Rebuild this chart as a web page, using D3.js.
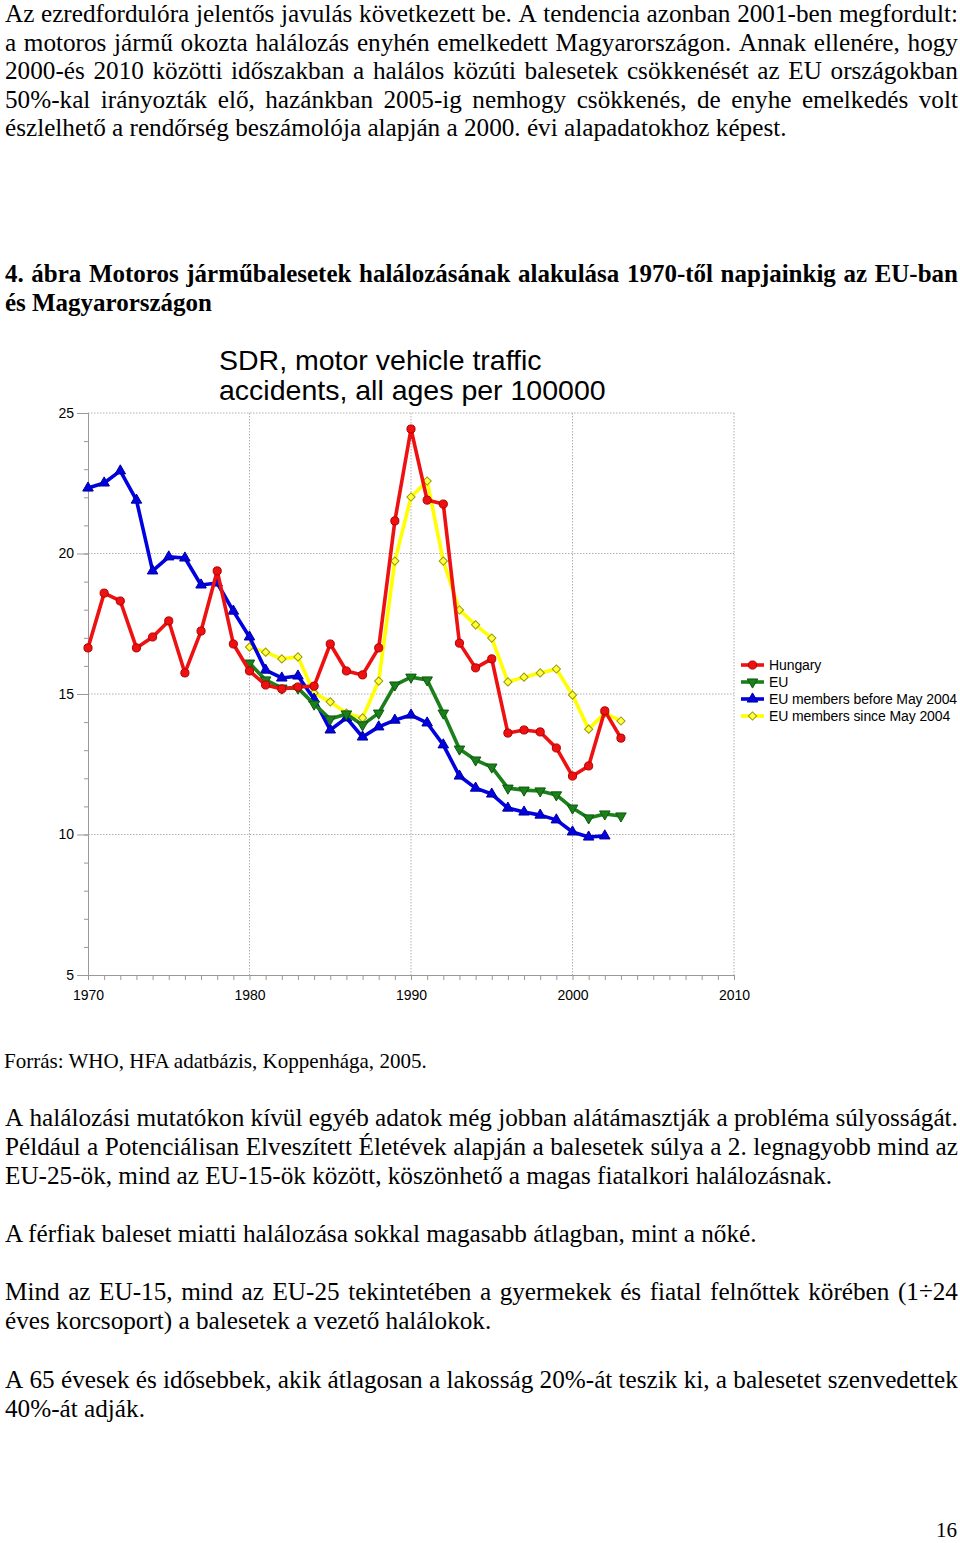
<!DOCTYPE html>
<html><head><meta charset="utf-8">
<script src="https://cdn.jsdelivr.net/npm/d3@7"></script>
<style>html,body{margin:0;padding:0;background:#fff;} svg{display:block;}</style>
</head><body>
<script>
// ---------- DATA ----------
const hungaryYears = d3.range(1970, 2004);
const hungary = [16.64, 18.59, 18.31, 16.64, 17.03, 17.60, 15.75, 17.24, 19.38, 16.78,
  15.82, 15.32, 15.18, 15.25, 15.28, 16.78, 15.82, 15.68, 16.64, 21.16,
  24.43, 21.90, 21.76, 16.81, 15.93, 16.25, 13.61, 13.72, 13.65, 13.08,
  12.08, 12.44, 14.40, 13.43];
const euYears = d3.range(1980, 2004);
const eu = [16.10, 15.50, 15.21, 15.21, 14.64, 14.11, 14.29, 13.90, 14.32, 15.32,
  15.60, 15.50, 14.32, 13.04, 12.65, 12.40, 11.65, 11.58, 11.55, 11.41,
  10.94, 10.59, 10.73, 10.66];
const euBeforeYears = d3.range(1970, 2003);
const euBefore = [22.33, 22.51, 22.94, 21.90, 19.38, 19.88, 19.84, 18.88, 18.95, 17.95,
  17.03, 15.85, 15.57, 15.64, 14.82, 13.72, 14.15, 13.47, 13.83, 14.07,
  14.25, 13.97, 13.19, 12.08, 11.65, 11.44, 10.94, 10.80, 10.69, 10.52,
  10.09, 9.91, 9.95];
const euSinceYears = d3.range(1980, 2004);
const euSince = [16.67, 16.49, 16.25, 16.32, 15.04, 14.72, 14.32, 14.15, 15.46, 19.73,
  22.01, 22.58, 19.73, 17.99, 17.46, 16.99, 15.43, 15.60, 15.75, 15.89,
  14.96, 13.75, 14.32, 14.04];
const seriesNames = ["Hungary", "EU", "EU members before May 2004", "EU members since May 2004"];
const yTicks = [5, 10, 15, 20, 25];
const xTicks = [1970, 1980, 1990, 2000, 2010];
const chartTitle = ["SDR, motor vehicle traffic", "accidents, all ages per 100000"];

const para1 = [
  ["Az ezredfordulóra jelentős javulás következett be. A tendencia azonban 2001-ben megfordult:", true],
  ["a motoros jármű okozta halálozás enyhén emelkedett Magyarországon. Annak ellenére, hogy", true],
  ["2000-és 2010 közötti időszakban a halálos közúti balesetek csökkenését az EU országokban", true],
  ["50%-kal irányozták elő, hazánkban 2005-ig nemhogy csökkenés, de enyhe emelkedés volt", true],
  ["észlelhető a rendőrség beszámolója alapján a 2000. évi alapadatokhoz képest.", false]];
const heading = [
  ["4. ábra Motoros járműbalesetek halálozásának alakulása 1970-től napjainkig az EU-ban", true],
  ["és Magyarországon", false]];
const caption = "Forrás: WHO, HFA adatbázis, Koppenhága, 2005.";
const para2 = [
  ["A halálozási mutatókon kívül egyéb adatok még jobban alátámasztják a probléma súlyosságát.", true],
  ["Például a Potenciálisan Elveszített Életévek alapján a balesetek súlya a 2. legnagyobb mind az", true],
  ["EU-25-ök, mind az EU-15-ök között, köszönhető a magas fiatalkori halálozásnak.", false]];
const para3 = [["A férfiak baleset miatti halálozása sokkal magasabb átlagban, mint a nőké.", false]];
const para4 = [
  ["Mind az EU-15, mind az EU-25 tekintetében a gyermekek és fiatal felnőttek körében (1÷24", true],
  ["éves korcsoport) a balesetek a vezető halálokok.", false]];
const para5 = [
  ["A 65 évesek és idősebbek, akik átlagosan a lakosság 20%-át teszik ki, a balesetet szenvedettek", true],
  ["40%-át adják.", false]];
const pageNumber = "16";

// ---------- SVG ----------
const W = 960, H = 1543;
const svg = d3.select("body").append("svg").attr("width", W).attr("height", H);
const SERIF = "Liberation Serif";
const SANS = "Liberation Sans";

function measure(str, size, weight, family) {
  const t = svg.append("text").attr("font-family", family).attr("font-size", size)
    .attr("font-weight", weight).text(str);
  const w = t.node().getComputedTextLength();
  t.remove();
  return w;
}

function drawBlock(lines, opts) {
  const {x0, y0, lh, size, weight, sx, right} = opts;
  const g = svg.append("g").attr("transform", `translate(${x0},0) scale(${sx},1)`);
  const target = (right - x0) / sx;
  lines.forEach(([str, just], i) => {
    const yy = y0 + i * lh;
    const t = g.append("text").attr("y", yy).attr("font-family", SERIF)
      .attr("font-size", size).attr("font-weight", weight).attr("fill", "#000");
    if (!just) { t.attr("x", 0).text(str); return; }
    const words = str.split(" ");
    const ws = words.map(w => measure(w, size, weight, SERIF));
    const gap = (target - d3.sum(ws)) / (words.length - 1);
    let cx = 0;
    words.forEach((w, k) => {
      t.append("tspan").attr("x", cx).text(w);
      cx += ws[k] + gap;
    });
  });
}

const bodySize = 24.5;
const bodySx = 782 / measure(para1[4][0], bodySize, "normal", SERIF);
const headSize = 24.5;
const headSx = 207 / measure(heading[1][0], headSize, "bold", SERIF);

drawBlock(para1, {x0: 5, y0: 22, lh: 28.6, size: bodySize, weight: "normal", sx: bodySx, right: 958});
drawBlock(heading, {x0: 5, y0: 282, lh: 29, size: headSize, weight: "bold", sx: headSx, right: 958});
const capSize = 20;
const capSx = 423 / measure(caption, capSize, "normal", SERIF);
drawBlock([[caption, false]], {x0: 4, y0: 1068, lh: 29, size: capSize, weight: "normal", sx: capSx, right: 958});
drawBlock(para2, {x0: 5, y0: 1126, lh: 29, size: bodySize, weight: "normal", sx: bodySx, right: 958});
drawBlock(para3, {x0: 5, y0: 1242, lh: 29, size: bodySize, weight: "normal", sx: bodySx, right: 958});
drawBlock(para4, {x0: 5, y0: 1300, lh: 29, size: bodySize, weight: "normal", sx: bodySx, right: 958});
drawBlock(para5, {x0: 5, y0: 1388, lh: 29, size: bodySize, weight: "normal", sx: bodySx, right: 958});
svg.append("text").attr("x", 936).attr("y", 1537)
  .attr("font-family", SERIF).attr("font-size", 21).text(pageNumber);

// ---------- CHART ----------
const x = d3.scaleLinear().domain([1970, 2010]).range([88, 734]);
const y = d3.scaleLinear().domain([5, 25]).range([975, 413]);
const chart = svg.append("g");

chart.selectAll("text.ctitle").data(chartTitle).join("text").attr("class", "ctitle")
  .attr("x", 219).attr("y", (d, i) => 370 + i * 30)
  .attr("font-family", SANS).attr("font-size", 28.5).attr("fill", "#000").text(d => d);

const grid = chart.append("g").attr("stroke", "#b0b0b0").attr("stroke-width", 1)
  .attr("stroke-dasharray", "1.5,1.5").attr("fill", "none");
grid.selectAll("line.v").data(xTicks.slice(1)).join("line").attr("class", "v")
  .attr("x1", d => x(d)).attr("x2", d => x(d)).attr("y1", y(25)).attr("y2", y(5));
grid.selectAll("line.h").data(yTicks.slice(1)).join("line").attr("class", "h")
  .attr("x1", x(1970)).attr("x2", x(2010)).attr("y1", d => y(d)).attr("y2", d => y(d));

const axisColor = "#999";
const yMinor = chart.append("g").attr("transform", `translate(${x(1970)},0)`)
  .call(d3.axisLeft(y).tickValues(d3.range(5, 26)).tickSize(4).tickFormat(""));
const yMajor = chart.append("g").attr("transform", `translate(${x(1970)},0)`)
  .call(d3.axisLeft(y).tickValues(yTicks).tickSize(11).tickPadding(3).tickFormat(d3.format("d")));
const xAxis = chart.append("g").attr("transform", `translate(0,${y(5)})`)
  .call(d3.axisBottom(x).tickValues(d3.range(1970, 2011)).tickSize(5).tickPadding(10)
    .tickFormat(d => d % 10 === 0 ? d : ""));
[yMinor, yMajor, xAxis].forEach(a => {
  a.selectAll("path.domain").attr("stroke", axisColor);
  a.selectAll(".tick line").attr("stroke", axisColor);
  a.selectAll("text").attr("font-family", SANS).attr("font-size", 14).attr("fill", "#000");
});

const series = [
  {name: seriesNames[3], years: euSinceYears, vals: euSince, color: "#ffff00", mfill: "#ffff40", mstroke: "#9a9a00", sym: "diamond"},
  {name: seriesNames[2], years: euBeforeYears, vals: euBefore, color: "#0000e0", mfill: "#0000e0", mstroke: "#00009a", sym: "up"},
  {name: seriesNames[1], years: euYears, vals: eu, color: "#1b7f1b", mfill: "#1b7f1b", mstroke: "#0d5a0d", sym: "down"},
  {name: seriesNames[0], years: hungaryYears, vals: hungary, color: "#ee1111", mfill: "#ee1111", mstroke: "#b00000", sym: "circle"}
];
function symPath(kind) {
  if (kind === "circle") return d3.symbol(d3.symbolCircle, 52)();
  if (kind === "diamond") return d3.symbol(d3.symbolSquare, 34)();
  return d3.symbol(d3.symbolTriangle, 48)();
}
function symTransform(kind, px, py) {
  if (kind === "diamond") return `translate(${px},${py}) rotate(45)`;
  if (kind === "down") return `translate(${px},${py}) rotate(180)`;
  return `translate(${px},${py})`;
}
const line = d3.line().x(d => x(d[0])).y(d => y(d[1]));
series.forEach(s => {
  const pts = s.years.map((yr, i) => [yr, s.vals[i]]);
  const g = chart.append("g");
  g.append("path").datum(pts).attr("d", line).attr("fill", "none")
    .attr("stroke", s.color).attr("stroke-width", 3.6).attr("stroke-linejoin", "round");
  g.selectAll("path.m").data(pts).join("path").attr("class", "m")
    .attr("d", symPath(s.sym)).attr("transform", d => symTransform(s.sym, x(d[0]), y(d[1])))
    .attr("fill", s.mfill).attr("stroke", s.mstroke).attr("stroke-width", 1);
});

const legendOrder = [series[3], series[2], series[1], series[0]];
const lg = chart.append("g");
legendOrder.forEach((s, i) => {
  const cy = 665 + i * 17;
  lg.append("line").attr("x1", 741).attr("x2", 764).attr("y1", cy).attr("y2", cy)
    .attr("stroke", s.color).attr("stroke-width", 3.6);
  lg.append("path").attr("d", symPath(s.sym)).attr("transform", symTransform(s.sym, 752.5, cy))
    .attr("fill", s.mfill).attr("stroke", s.mstroke).attr("stroke-width", 1);
  lg.append("text").attr("x", 769).attr("y", cy + 5).attr("font-family", SANS)
    .attr("font-size", 14).attr("letter-spacing", -0.1).attr("fill", "#000").text(s.name);
});
</script>
</body></html>
